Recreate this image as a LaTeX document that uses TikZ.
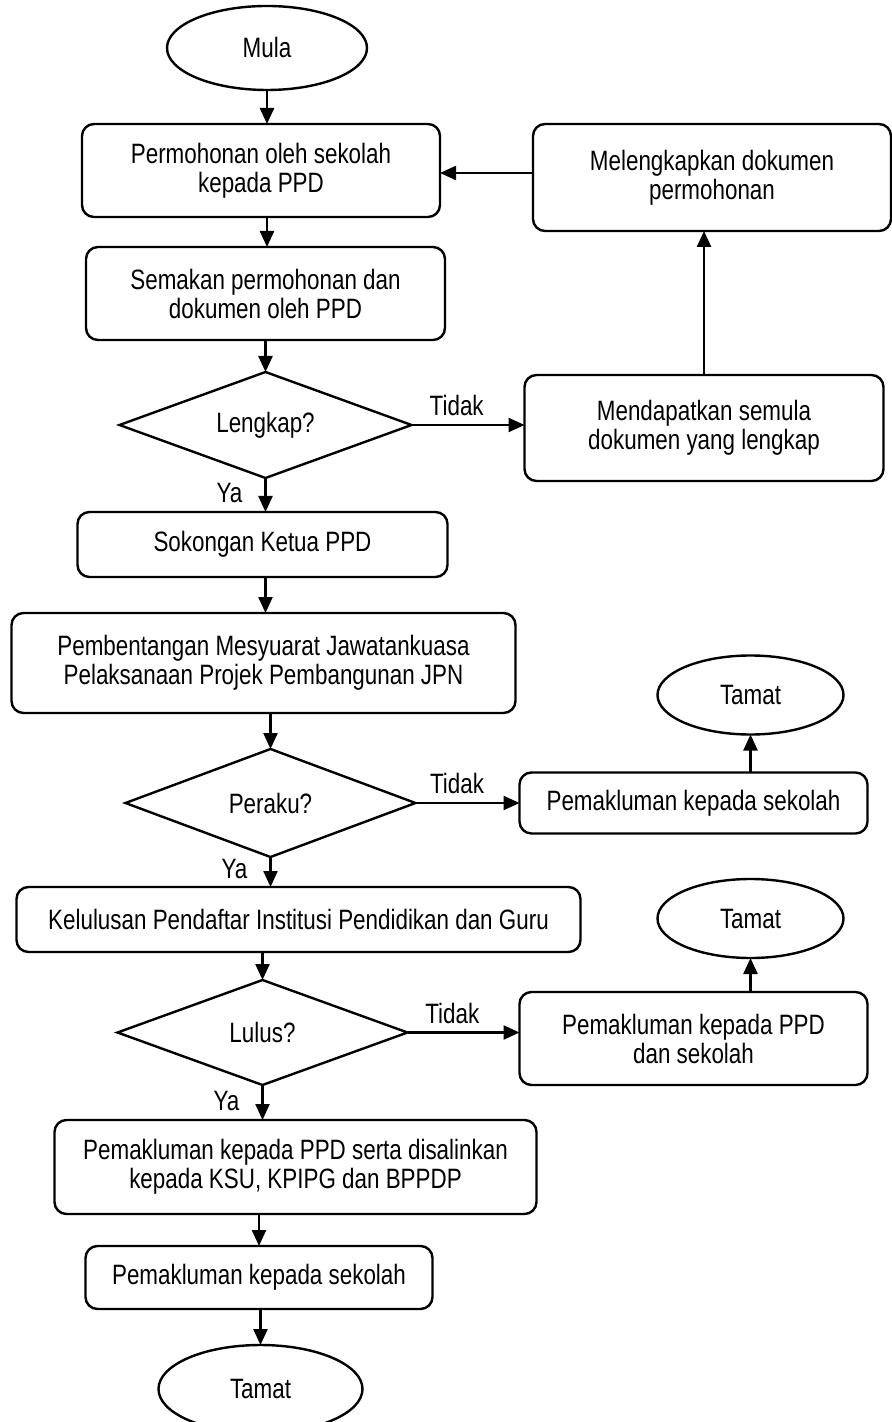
\documentclass[tikz,border=0pt]{standalone}
\usepackage{fontspec}
\setmainfont[FakeStretch=0.8]{Liberation Sans}
\usetikzlibrary{positioning,shapes.geometric,arrows.meta}

\begin{document}
\begin{tikzpicture}[
		langkah/.style={draw,rounded corners=6pt,align=center,inner sep=2pt,outer sep=0pt},
		hujung/.style={draw,ellipse,inner sep=0pt,outer sep=0pt},
		soalan/.style={draw,diamond,aspect=2.75,inner sep=0pt,outer sep=0pt},
		> = {Triangle[width=7pt,length=8pt]},
		line width=1.2pt,
		font=\fontsize{14pt}{14.5pt}\selectfont,
		jawab/.style = {inner sep=1pt}
		]
		\useasboundingbox (-133.5pt,24pt) rectangle (312.5pt,-687pt);
		% Aliran utama
		\node[hujung, minimum width=100pt, minimum height=42pt] at (0,0) (mula) {Mula};
		\node[langkah, minimum width=179pt, minimum height=46.5pt, below=17pt of mula, xshift=-3pt] (mohon) {Permohonan oleh sekolah\\kepada PPD};
		\node[langkah, minimum width=179.5pt, minimum height=46.5pt, below=15pt of mohon, xshift=2.25pt] (semak) {Semakan permohonan dan\\dokumen oleh PPD};
		\node[soalan, minimum width=146pt, minimum height=53pt, below=16pt of semak] (lengkap) {Lengkap?};
		\node[langkah, minimum width=185pt, minimum height=32.5pt, below=17pt of lengkap, xshift=-1.5pt] (sokong) {Sokongan Ketua PPD};
		\node[langkah, minimum width=252pt, minimum height=50pt, below=18pt of sokong, xshift=0.5pt] (bentang) {Pembentangan Mesyuarat Jawatankuasa\\Pelaksanaan Projek Pembangunan JPN};
		\node[soalan, minimum width=145pt, minimum height=54pt, below=18pt of bentang, xshift=3.5pt] (peraku) {Peraku?};
		\node[langkah, minimum width=282pt, minimum height=32.5pt, below=15pt of peraku, xshift=14pt] (lulus) {Kelulusan Pendaftar Institusi Pendidikan dan Guru};
		\node[soalan, minimum width=145pt, minimum height=52.5pt, below=14pt of lulus, xshift=-18pt] (lulusq) {Lulus?};
		\node[langkah, minimum width=241pt, minimum height=47pt, below=17.5pt of lulusq, xshift=16.5pt] (salin) {Pemakluman kepada PPD serta disalinkan\\kepada KSU, KPIPG dan BPPDP};
		\node[langkah, minimum width=173.5pt, minimum height=31.5pt, below=16pt of salin, xshift=-18.25pt] (maklum) {Pemakluman kepada sekolah};
		\node[hujung, minimum width=102pt, minimum height=44pt, below=18pt of maklum, xshift=0.75pt] (tamat) {Tamat};

		% Cabang kanan
		\node[langkah, minimum width=179pt, minimum height=53.5pt, right=46.5pt of mohon, yshift=-3.5pt] (lengkapkan) {Melengkapkan dokumen\\permohonan};
		\node[langkah, minimum width=179.5pt, minimum height=53pt, right=56.5pt of lengkap, yshift=-1.5pt] (dapat) {Mendapatkan semula\\dokumen yang lengkap};
		\node[langkah, minimum width=174pt, minimum height=30.5pt, right=52pt of peraku] (maklumA) {Pemakluman kepada sekolah};
		\node[hujung, minimum width=93pt, minimum height=39.5pt, above=19pt of maklumA, xshift=28.5pt] (tamatA) {Tamat};
		\node[langkah, minimum width=174pt, minimum height=46.5pt, right=56pt of lulusq, yshift=-3pt] (maklumB) {Pemakluman kepada PPD\\dan sekolah};
		\node[hujung, minimum width=93pt, minimum height=39.5pt, above=17pt of maklumB, xshift=28.5pt] (tamatB) {Tamat};

		% Anak panah
		\path[->] (mula) edge (mula |- mohon.north)
					(mohon.south -| mula) edge (mula |- semak.north)
					(semak.south -| lengkap) edge (lengkap.north)
					(lengkap.south) edge node[jawab, pos=0.45, left=10pt] {Ya} (lengkap.south |- sokong.north)
					(sokong.south -| lengkap) edge (lengkap |- bentang.north)
					(bentang.south -| peraku) edge (peraku.north)
					(peraku.south) edge node[jawab, pos=0.4, left=10pt] {Ya} (peraku.south |- lulus.north)
					(lulus.south -| lulusq) edge (lulusq.north)
					(lulusq.south) edge node[jawab, pos=0.45, left=10pt] {Ya} (lulusq.south |- salin.north)
					(salin.south -| maklum) edge (maklum.north)
					(maklum.south -| tamat) edge (tamat.north);

		\path[->] (lengkap.east) edge node[jawab, pos=0.4, above=3pt] {Tidak} (lengkap.east -| dapat.west)
					(dapat.north) edge (dapat.north |- lengkapkan.south)
					(lengkapkan.west |- 0,-62.5pt) edge (mohon.east |- 0,-62.5pt)
					(peraku.east) edge node[jawab, pos=0.4, above=3pt] {Tidak} (peraku.east -| maklumA.west)
					(maklumA.north -| tamatA) edge (tamatA.south)
					(lulusq.east) edge node[jawab, pos=0.4, above=3pt] {Tidak} (lulusq.east -| maklumB.west)
					(maklumB.north -| tamatB) edge (tamatB.south);
	\end{tikzpicture}
\end{document}
